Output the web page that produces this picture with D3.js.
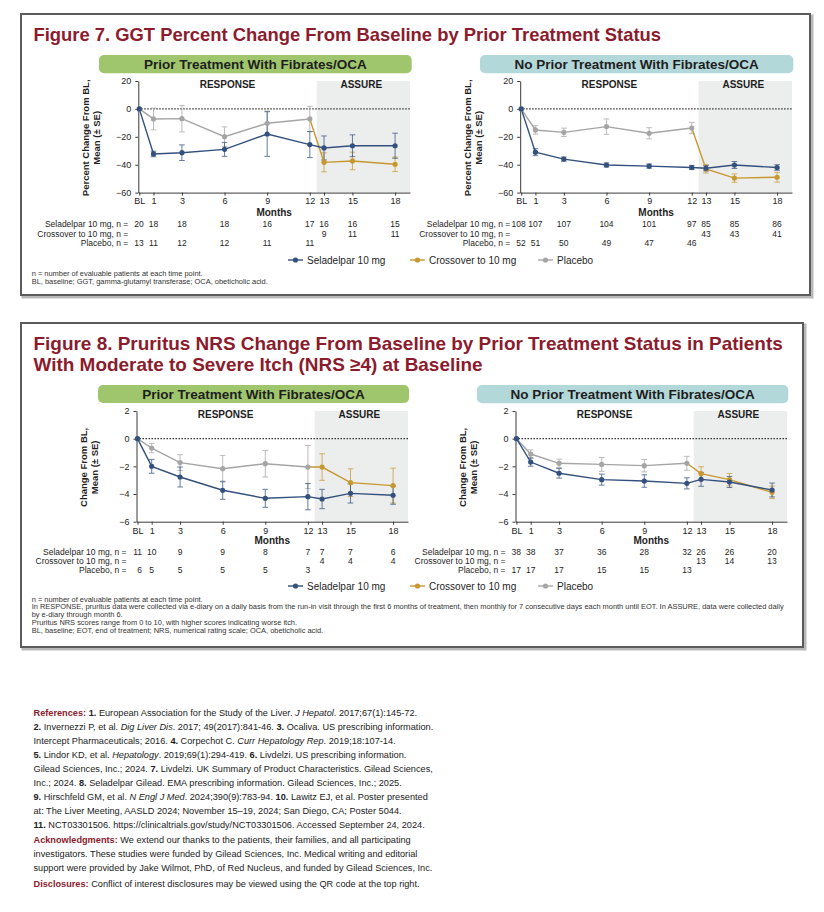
<!DOCTYPE html>
<html><head><meta charset="utf-8">
<script src="https://cdn.jsdelivr.net/npm/d3@7"></script>
<style>
body{margin:0;background:#fff;}
svg text{font-family:"Liberation Sans",Arial,Helvetica,sans-serif;white-space:pre;}
</style></head><body>
<svg id="c" width="824" height="912"></svg>
<script>
// ---------------- DATA ----------------
const months = [0, 1, 3, 6, 9, 12, 13, 15, 18];
const monthLabels = ["BL", "1", "3", "6", "9", "12", "13", "15", "18"];
const placeboMonths = [0, 1, 3, 6, 9, 12];
const crossMonths = [13, 15, 18];
const seriesNames = ["Seladelpar 10 mg", "Crossover to 10 mg", "Placebo"];
const nRowLabels = ["Seladelpar 10 mg, n =", "Crossover to 10 mg, n =", "Placebo, n ="];

// Figure 7: GGT % change
const f7Ticks = [20, 0, -20, -40, -60];
const f7PriorSel = [0, -32.3, -31.4, -29.0, -18.0, -25.6, -28.0, -26.4, -26.4];
const f7PriorSelSE = [0, 2.0, 5.6, 5.0, 16.0, 9.3, 8.6, 7.8, 9.0];
const f7PriorPbo = [0, -7.2, -7.0, -19.9, -10.3, -7.2];
const f7PriorPboSE = [0, 7.8, 9.5, 7.0, 8.8, 9.0];
const f7PriorCross = [-38.3, -37.3, -39.7];
const f7PriorCrossSE = [6.8, 6.3, 5.2];
const f7PriorNSel = ["20", "18", "18", "18", "16", "17", "16", "16", "15"];
const f7PriorNCross = ["9", "11", "11"];
const f7PriorNPbo = ["13", "11", "12", "12", "11", "11"];

const f7NoSel = [0, -31.0, -36.0, -40.2, -41.0, -42.0, -42.5, -40.2, -42.0];
const f7NoSelSE = [0, 2.5, 1.5, 1.5, 1.5, 1.5, 2.0, 2.5, 2.0];
const f7NoPbo = [0, -15.1, -16.8, -12.7, -17.5, -13.7];
const f7NoPboSE = [0, 3.0, 3.0, 5.5, 4.0, 4.0];
const f7NoCross = [-43.0, -49.6, -49.0];
const f7NoCrossSE = [3.0, 3.0, 3.5];
const f7NoNSel = ["108", "107", "107", "104", "101", "97", "85", "85", "86"];
const f7NoNCross = ["43", "43", "41"];
const f7NoNPbo = ["52", "51", "50", "49", "47", "46"];

// Figure 8: Pruritus NRS change
const f8Ticks = [2, 0, -2, -4, -6];
const f8PriorSel = [0, -2.0, -2.77, -3.73, -4.31, -4.19, -4.36, -3.95, -4.09];
const f8PriorSelSE = [0, 0.5, 0.72, 0.65, 0.65, 0.95, 0.7, 0.7, 0.65];
const f8PriorPbo = [0, -0.68, -1.73, -2.17, -1.81, -2.05];
const f8PriorPboSE = [0, 0.34, 0.57, 0.96, 0.96, 1.56];
const f8PriorCross = [-2.05, -3.18, -3.39];
const f8PriorCrossSE = [0.96, 1.0, 1.26];
const f8PriorNSel = ["11", "10", "9", "9", "8", "7", "7", "7", "6"];
const f8PriorNCross = ["4", "4", "4"];
const f8PriorNPbo = ["6", "5", "5", "5", "5", "3"];

const f8NoSel = [0, -1.69, -2.5, -2.96, -3.06, -3.23, -2.94, -3.13, -3.71];
const f8NoSelSE = [0, 0.3, 0.35, 0.4, 0.45, 0.4, 0.5, 0.4, 0.5];
const f8NoPbo = [0, -1.11, -1.78, -1.86, -1.95, -1.78];
const f8NoPboSE = [0, 0.3, 0.3, 0.5, 0.45, 0.5];
const f8NoCross = [-2.53, -2.96, -3.88];
const f8NoCrossSE = [0.5, 0.45, 0.45];
const f8NoNSel = ["38", "38", "37", "36", "28", "32", "26", "26", "20"];
const f8NoNCross = ["13", "14", "13"];
const f8NoNPbo = ["17", "17", "17", "15", "15", "13"];

// ---------------- STYLE ----------------
const C = {sel: "#33507e", cross: "#c89830", pbo: "#a5a5a5", red: "#8b1b2d",
  green: "#9fc66c", teal: "#b3d8da", shade: "#eceeed", ink: "#1e1e1e"};
const FONT = '"Liberation Sans",Arial,Helvetica,sans-serif';

const svg = d3.select("#c");
svg.append("rect").attr("width", 824).attr("height", 912).attr("fill", "#fff");

function box(x, y, w, h) {
  svg.append("rect").attr("x", x + 2).attr("y", y + 2).attr("width", w).attr("height", h)
    .attr("fill", "none").attr("stroke", "#b9b9b9").attr("stroke-width", 3);
  svg.append("rect").attr("x", x).attr("y", y).attr("width", w).attr("height", h)
    .attr("fill", "#fff").attr("stroke", "#5b5b5b").attr("stroke-width", 2);
}

function txt(g, x, y, s, size, opts = {}) {
  return g.append("text").attr("x", x).attr("y", y).text(s)
    .attr("font-size", size).attr("fill", opts.fill || C.ink)
    .attr("font-weight", opts.bold ? "bold" : null)
    .attr("text-anchor", opts.anchor || "start")
    .attr("dominant-baseline", opts.base || "central");
}

function panel(p) {
  const g = svg.append("g");
  const x = d3.scaleLinear().domain([-0.07, 19.05]).range([p.axisX, p.plotEnd]);
  const y = d3.scaleLinear().domain(p.yDomain).range([p.yBottom, p.yTop]);
  const shadeX = x(12.48);

  // header
  g.append("rect").attr("x", p.header[0]).attr("y", p.header[1]).attr("width", p.header[2])
    .attr("height", p.header[3]).attr("rx", 5).attr("fill", p.headerColor);
  txt(g, p.header[0] + p.header[2] / 2, p.header[1] + p.header[3] / 2 + 0.5, p.headerText, 13.5,
    {bold: true, anchor: "middle"});

  // ASSURE shading
  g.append("rect").attr("x", shadeX).attr("y", p.yTop).attr("width", p.plotEnd - shadeX)
    .attr("height", p.yBottom - p.yTop).attr("fill", C.shade);

  txt(g, (p.axisX + shadeX) / 2, p.yTop + 3, "RESPONSE", 10, {bold: true, anchor: "middle"});
  txt(g, (shadeX + p.plotEnd) / 2 - 2, p.yTop + 3, "ASSURE", 10, {bold: true, anchor: "middle"});

  // zero line
  g.append("line").attr("x1", p.axisX).attr("x2", p.plotEnd).attr("y1", y(0)).attr("y2", y(0))
    .attr("stroke", "#222").attr("stroke-width", 1.3).attr("stroke-dasharray", "1.4,1.6");

  // axes
  const ya = g.append("g").attr("transform", `translate(${p.axisX},0)`)
    .call(d3.axisLeft(y).tickValues(p.yTicks).tickSize(3).tickSizeOuter(0).tickPadding(4));
  const xa = g.append("g").attr("transform", `translate(0,${p.yBottom})`)
    .call(d3.axisBottom(x).tickValues(months).tickFormat((d, i) => monthLabels[i])
      .tickSize(3).tickSizeOuter(0).tickPadding(2.5));
  [ya, xa].forEach(a => {
    a.selectAll("path,line").attr("stroke", "#3a3a3a");
    a.selectAll("text").attr("font-size", 9).attr("fill", C.ink).attr("font-family", FONT);
  });

  // y title
  p.yTitle.forEach((s, i) => {
    const cx = p.axisX - 53 + i * 11, cy = (p.yTop + p.yBottom) / 2 + 1;
    txt(g, 0, 0, s, 9.5, {bold: true, anchor: "middle"})
      .attr("transform", `translate(${cx},${cy}) rotate(-90)`);
  });

  // series
  const sel = months.map((m, i) => ({m, v: p.sel[i], se: p.selSE[i]}));
  const pbo = placeboMonths.map((m, i) => ({m, v: p.pbo[i], se: p.pboSE[i]}));
  const crs = crossMonths.map((m, i) => ({m, v: p.cross[i], se: p.crossSE[i]}));
  const crsLine = [pbo[pbo.length - 1]].concat(crs);
  const line = d3.line().x(d => x(d.m)).y(d => y(d.v));

  const groups = [[pbo, pbo, C.pbo], [crs, crsLine, C.cross], [sel, sel, C.sel]];
  groups.forEach(([pts, lp, col]) => {
    const eb = g.append("g").attr("stroke", col).attr("stroke-width", 1).attr("opacity", 0.75);
    pts.filter(d => d.se > 0).forEach(d => {
      const cx = x(d.m);
      eb.append("line").attr("x1", cx).attr("x2", cx).attr("y1", y(d.v - d.se)).attr("y2", y(d.v + d.se));
      [d.v - d.se, d.v + d.se].forEach(v => eb.append("line")
        .attr("x1", cx - 2.8).attr("x2", cx + 2.8).attr("y1", y(v)).attr("y2", y(v)));
    });
  });
  groups.forEach(([pts, lp, col]) => {
    g.append("path").datum(lp).attr("d", line).attr("fill", "none")
      .attr("stroke", col).attr("stroke-width", 1.4);
  });
  groups.forEach(([pts, lp, col]) => {
    g.selectAll(null).data(pts).enter().append("circle")
      .attr("cx", d => x(d.m)).attr("cy", d => y(d.v)).attr("r", 2.6).attr("fill", col);
  });

  // months label + n table
  txt(g, (p.axisX + p.plotEnd) / 2, p.monthsY, "Months", 10, {bold: true, anchor: "middle"});
  const rows = [[months, p.nSel], [crossMonths, p.nCross], [placeboMonths, p.nPbo]];
  rows.forEach(([ms, vals], r) => {
    const yy = p.nY[r];
    txt(g, x(0) - 11, yy, nRowLabels[r], 8.5, {anchor: "end"});
    ms.forEach((m, i) => {
      if (m === 0) txt(g, x(0) + 4.5, yy, vals[i], 8.5, {anchor: "end"});
      else txt(g, x(m), yy, vals[i], 8.5, {anchor: "middle"});
    });
  });
}

function legend(yy) {
  const starts = [288, 410, 538];
  const cols = [C.sel, C.cross, C.pbo];
  seriesNames.forEach((s, i) => {
    const x0 = starts[i];
    svg.append("line").attr("x1", x0).attr("x2", x0 + 15).attr("y1", yy).attr("y2", yy)
      .attr("stroke", cols[i]).attr("stroke-width", 1.4);
    svg.append("circle").attr("cx", x0 + 7.5).attr("cy", yy).attr("r", 2.6).attr("fill", cols[i]);
    txt(svg, x0 + 19, yy + 0.5, s, 10);
  });
}

function notes(lines, x0, y0, dy) {
  lines.forEach((s, i) => txt(svg, x0, y0 + i * dy, s, 7.45, {fill: "#333"}));
}

// ---------------- FIGURE 7 ----------------
box(21, 14, 789, 281);
svg.append("text").attr("x", 33.5).attr("y", 40.5).attr("font-size", 18.4).attr("font-weight", "bold")
  .attr("fill", C.red).text("Figure 7. GGT Percent Change From Baseline by Prior Treatment Status");

const f7common = {yDomain: [-60, 20], yTicks: f7Ticks, yTop: 81, yBottom: 192.6,
  yTitle: ["Percent Change From BL,", "Mean (± SE)"], monthsY: 212, nY: [224, 233.7, 243]};
panel(Object.assign({}, f7common, {axisX: 138.3, plotEnd: 410,
  header: [99, 55, 312.7, 18.3], headerColor: C.green, headerText: "Prior Treatment With Fibrates/OCA",
  sel: f7PriorSel, selSE: f7PriorSelSE, pbo: f7PriorPbo, pboSE: f7PriorPboSE,
  cross: f7PriorCross, crossSE: f7PriorCrossSE, nSel: f7PriorNSel, nCross: f7PriorNCross, nPbo: f7PriorNPbo}));
panel(Object.assign({}, f7common, {axisX: 520.2, plotEnd: 792,
  header: [480, 55, 313.3, 18.3], headerColor: C.teal, headerText: "No Prior Treatment With Fibrates/OCA",
  sel: f7NoSel, selSE: f7NoSelSE, pbo: f7NoPbo, pboSE: f7NoPboSE,
  cross: f7NoCross, crossSE: f7NoCrossSE, nSel: f7NoNSel, nCross: f7NoNCross, nPbo: f7NoNPbo}));
legend(260);
notes(["n = number of evaluable patients at each time point.",
  "BL, baseline; GGT, gamma-glutamyl transferase; OCA, obeticholic acid."], 31.7, 273, 8.4);

// ---------------- FIGURE 8 ----------------
box(21, 323, 782, 324);
svg.append("text").attr("x", 33.5).attr("y", 350).attr("font-size", 18.95).attr("font-weight", "bold")
  .attr("fill", C.red).text("Figure 8. Pruritus NRS Change From Baseline by Prior Treatment Status in Patients");
svg.append("text").attr("x", 33.5).attr("y", 371).attr("font-size", 18.95).attr("font-weight", "bold")
  .attr("fill", C.red).text("With Moderate to Severe Itch (NRS ≥4) at Baseline");

const f8common = {yDomain: [-6, 2], yTicks: f8Ticks, yTop: 411, yBottom: 521.7,
  yTitle: ["Change From BL,", "Mean (± SE)"], monthsY: 540, nY: [551.7, 561, 570]};
panel(Object.assign({}, f8common, {axisX: 136.5, plotEnd: 408,
  header: [98, 385, 311, 18], headerColor: C.green, headerText: "Prior Treatment With Fibrates/OCA",
  sel: f8PriorSel, selSE: f8PriorSelSE, pbo: f8PriorPbo, pboSE: f8PriorPboSE,
  cross: f8PriorCross, crossSE: f8PriorCrossSE, nSel: f8PriorNSel, nCross: f8PriorNCross, nPbo: f8PriorNPbo}));
panel(Object.assign({}, f8common, {axisX: 515.5, plotEnd: 787,
  header: [477, 385, 311.3, 18.3], headerColor: C.teal, headerText: "No Prior Treatment With Fibrates/OCA",
  sel: f8NoSel, selSE: f8NoSelSE, pbo: f8NoPbo, pboSE: f8NoPboSE,
  cross: f8NoCross, crossSE: f8NoCrossSE, nSel: f8NoNSel, nCross: f8NoNCross, nPbo: f8NoNPbo}));
legend(586);
notes(["n = number of evaluable patients at each time point.",
  "In RESPONSE, pruritus data were collected via e-diary on a daily basis from the run-in visit through the first 6 months of treatment, then monthly for 7 consecutive days each month until EOT. In ASSURE, data were collected daily",
  "by e-diary through month 6.",
  "Pruritus NRS scores range from 0 to 10, with higher scores indicating worse itch.",
  "BL, baseline; EOT, end of treatment; NRS, numerical rating scale; OCA, obeticholic acid."], 31.7, 599, 7.9);

// ---------------- REFERENCES ----------------
const refLines = [
  [["References: ", "r"], ["1. ", "b"], ["European Association for the Study of the Liver. ", ""], ["J Hepatol", "i"], [". 2017;67(1):145-72.", ""]],
  [["2. ", "b"], ["Invernezzi P, et al. ", ""], ["Dig Liver Dis", "i"], [". 2017; 49(2017):841-46. ", ""], ["3. ", "b"], ["Ocaliva. US prescribing information.", ""]],
  [["Intercept Pharmaceuticals; 2016. ", ""], ["4. ", "b"], ["Corpechot C. ", ""], ["Curr Hepatology Rep", "i"], [". 2019;18:107-14.", ""]],
  [["5. ", "b"], ["Lindor KD, et al. ", ""], ["Hepatology", "i"], [". 2019;69(1):294-419. ", ""], ["6. ", "b"], ["Livdelzi. US prescribing information.", ""]],
  [["Gilead Sciences, Inc.; 2024. ", ""], ["7. ", "b"], ["Livdelzi. UK Summary of Product Characteristics. Gilead Sciences,", ""]],
  [["Inc.; 2024. ", ""], ["8. ", "b"], ["Seladelpar Gilead. EMA prescribing information. Gilead Sciences, Inc.; 2025.", ""]],
  [["9. ", "b"], ["Hirschfeld GM, et al. ", ""], ["N Engl J Med", "i"], [". 2024;390(9):783-94. ", ""], ["10. ", "b"], ["Lawitz EJ, et al. Poster presented", ""]],
  [["at: The Liver Meeting, AASLD 2024; November 15–19, 2024; San Diego, CA; Poster 5044.", ""]],
  [["11. ", "b"], ["NCT03301506. https://clinicaltrials.gov/study/NCT03301506. Accessed September 24, 2024.", ""]]
];
const ackLines = [
  [["Acknowledgments: ", "r"], ["We extend our thanks to the patients, their families, and all participating", ""]],
  [["investigators. These studies were funded by Gilead Sciences, Inc. Medical writing and editorial", ""]],
  [["support were provided by Jake Wilmot, PhD, of Red Nucleus, and funded by Gilead Sciences, Inc.", ""]]
];
const discLines = [
  [["Disclosures: ", "r"], ["Conflict of interest disclosures may be viewed using the QR code at the top right.", ""]]
];
function richLine(segs, x0, yy) {
  const t = svg.append("text").attr("x", x0).attr("y", yy).attr("font-size", 9.2)
    .attr("dominant-baseline", "central").attr("fill", "#222");
  segs.forEach(([s, st]) => {
    const ts = t.append("tspan").text(s);
    if (st === "b") ts.attr("font-weight", "bold");
    if (st === "i") ts.attr("font-style", "italic");
    if (st === "r") ts.attr("font-weight", "bold").attr("fill", C.red);
  });
}
refLines.forEach((l, i) => richLine(l, 33.5, 712.7 + i * 14));
ackLines.forEach((l, i) => richLine(l, 33.5, 839.5 + i * 14));
discLines.forEach((l, i) => richLine(l, 33.5, 883.5 + i * 14));
</script>
</body></html>
